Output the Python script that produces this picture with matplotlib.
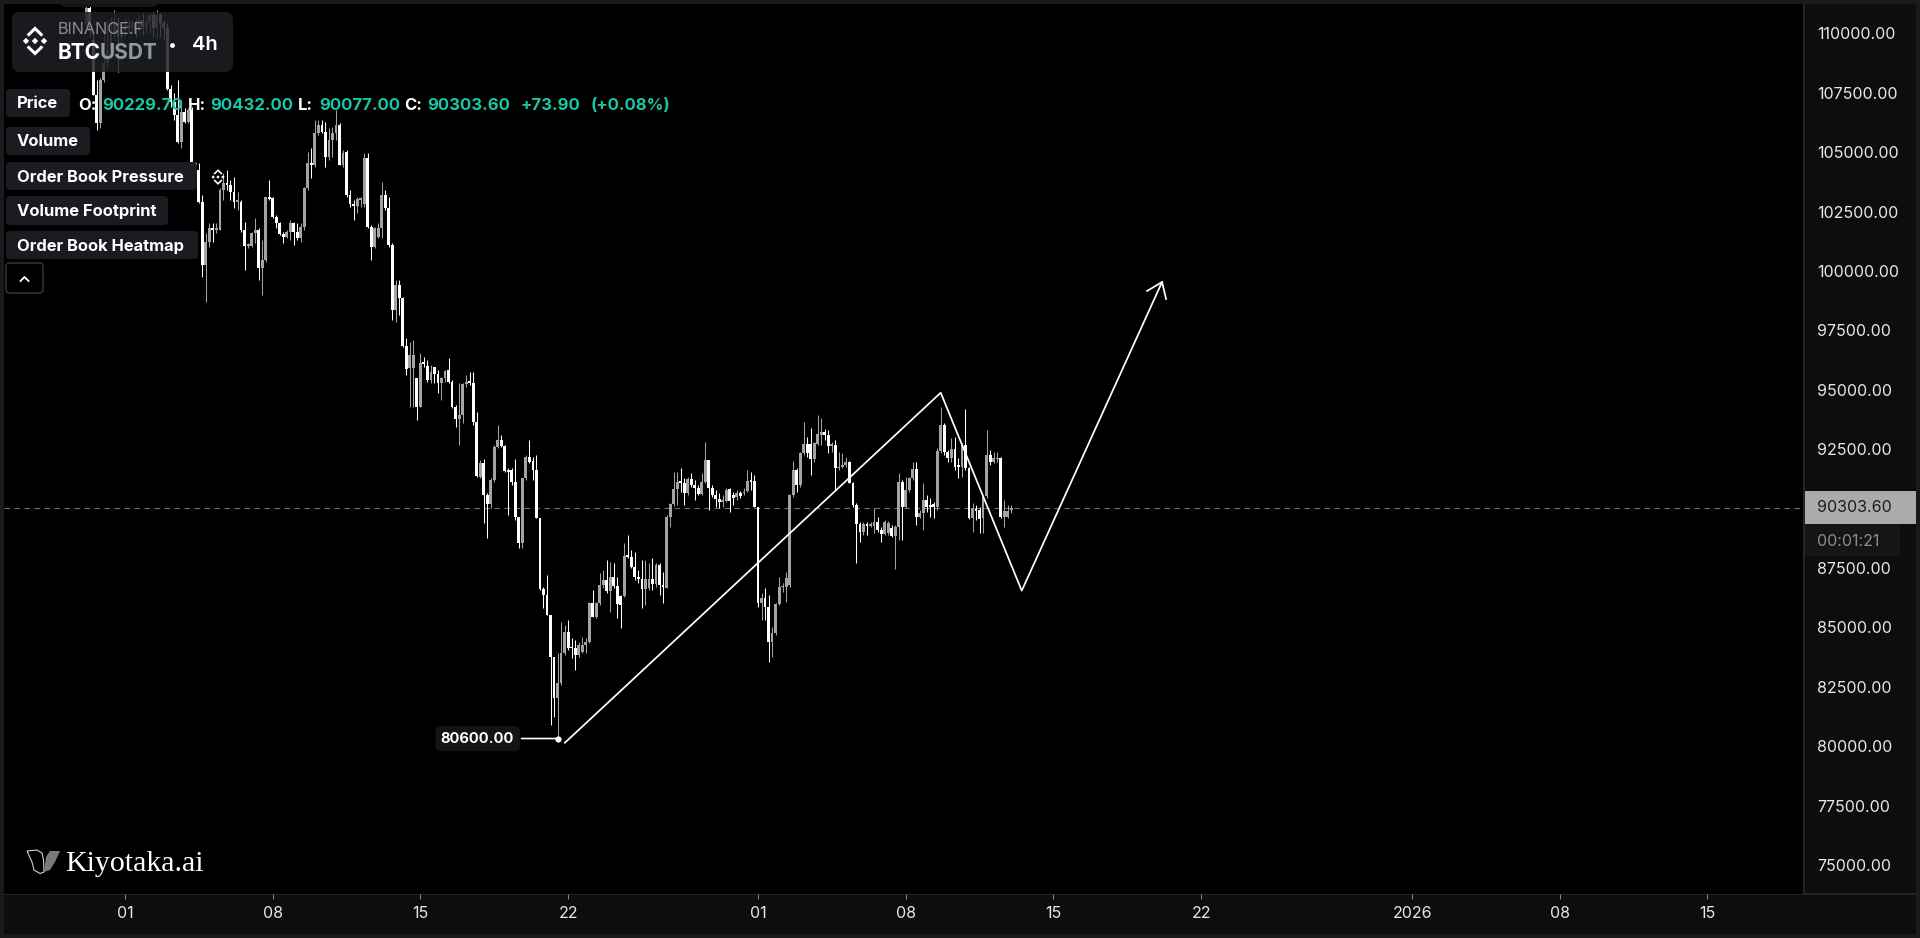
import numpy as np
import pandas as pd
import matplotlib
matplotlib.use("Agg")
import matplotlib.pyplot as plt
import matplotlib.dates as mdates
from matplotlib.patches import FancyBboxPatch, Rectangle, Polygon
from matplotlib.transforms import offset_copy

plt.rcParams["font.family"] = ["Inter", "DejaVu Sans"]

# 4h candles
first_candle = "2025-10-30 04:00"
opens = [
    110700, 111330, 110000, 107690, 106490, 108320, 109020, 109580, 110280, 110700,
    110140, 110420, 110630, 110490, 110700, 110420, 110840, 110560, 110770, 111050,
    110490, 111050, 110700, 110490, 107920, 107400, 106840, 105720, 106980, 106560,
    107050, 104810, 104530, 103200, 100530, 101510, 102070, 102000, 102000, 103690,
    103970, 103900, 103620, 103200, 103200, 102000, 101340, 101340, 101860, 102000,
    100390, 100740, 103380, 103340, 102560, 102310, 101830, 101700, 101930, 102280,
    101930, 101650, 102140, 103760, 104810, 104740, 106070, 106420, 106140, 105090,
    105790, 106070, 106420, 104740, 105300, 103480, 103100, 103030, 103270, 103100,
    105020, 102140, 101270, 101720, 102070, 103480, 102910, 101370, 98640, 99690,
    99130, 97120, 96180, 96180, 95760, 94570, 96390, 96290, 95690, 96250,
    95940, 95580, 95760, 96110, 95620, 94570, 94030, 94220, 95520, 95620,
    95550, 93940, 91620, 92180, 90850, 90470, 91480, 92880, 93160, 92930,
    91900, 91900, 91410, 89910, 88840, 91550, 92430, 92280, 91900, 89870,
    86880, 86640, 85800, 84020, 82290, 82920, 84180, 85100, 84470, 84400,
    84120, 84260, 84540, 84680, 86290, 85730, 86290, 87060, 87270, 86820,
    87410, 87020, 86600, 86600, 88280, 88250, 87830, 87380, 87300, 86880,
    86920, 87300, 87090, 87900, 87060, 86950, 89940, 90460, 91090, 91410,
    91370, 90920, 91510, 91270, 91130, 90890, 91410, 92320, 91130, 90850,
    90670, 90540, 90600, 91090, 90850, 90780, 90950, 90920, 91020, 91440,
    91440, 90330, 86320, 86530, 86120, 84680, 85030, 86260, 86960, 86990,
    87060, 90850, 91900, 91270, 92600, 93000, 93000, 92350, 93000, 93380,
    93520, 93380, 92910, 92950, 91970, 92010, 92110, 92250, 91370, 90430,
    89630, 89310, 89630, 89540, 89540, 89730, 89380, 89210, 89240, 89450,
    89120, 89520, 91410, 90330, 91060, 91550, 91930, 89940, 90110, 90640,
    90430, 90470, 90330, 92720, 93800, 92670, 92390, 92770, 92110, 92040,
    92950, 92000, 89870, 90250, 90220, 89870, 90810, 92530, 92250, 92350,
    92420, 89910, 89940, 90229.7,
]
highs = [
    111510, 111430, 110280, 108320, 108390, 110280, 110840, 110980, 111260, 110980,
    110700, 110910, 110840, 110840, 110910, 111050, 111120, 110980, 111150, 111190,
    111260, 111150, 110840, 110700, 108110, 107760, 108320, 107480, 107120, 107120,
    107190, 104880, 104810, 103480, 101860, 102280, 102310, 102280, 103760, 104390,
    104530, 104110, 104250, 103620, 103270, 102350, 101440, 101930, 102490, 102070,
    101580, 103410, 104110, 103410, 102640, 102350, 101930, 102000, 102420, 102350,
    102310, 102280, 103830, 105300, 105440, 106630, 106630, 106630, 106560, 106280,
    106350, 107050, 106490, 105370, 105370, 103690, 103270, 103410, 103410, 105230,
    105230, 102210, 102140, 102280, 104040, 103690, 103410, 101440, 99900, 99900,
    99200, 97440, 97300, 97370, 95760, 96810, 96670, 96530, 96320, 96250,
    96110, 95830, 96110, 96600, 95690, 94640, 95550, 95550, 95900, 96040,
    96040, 94360, 92320, 92350, 90920, 91550, 92950, 93800, 93380, 92950,
    91970, 91970, 92350, 89940, 91550, 92530, 93160, 92460, 92530, 89870,
    86990, 87480, 85800, 84040, 84180, 85520, 85380, 85590, 84820, 84750,
    84680, 84890, 84820, 86360, 86850, 86360, 87550, 87690, 88110, 88040,
    87970, 87410, 86640, 88820, 89170, 88530, 88460, 87690, 88110, 88110,
    87970, 88180, 87970, 87970, 87620, 90010, 90500, 91830, 91830, 91970,
    91550, 91620, 91760, 91480, 91270, 91760, 93090, 92320, 91270, 91060,
    90920, 90850, 91130, 91130, 90990, 91060, 91030, 91130, 91900, 91830,
    91690, 90360, 86710, 86920, 86640, 85310, 86320, 87410, 87130, 87620,
    90890, 92290, 91970, 92670, 93940, 93300, 93650, 93090, 94220, 94080,
    93610, 93580, 93090, 93160, 92670, 92600, 92460, 92290, 91410, 90500,
    89730, 89730, 89730, 89730, 90290, 89940, 89520, 89800, 89760, 89590,
    89590, 91760, 91480, 91620, 91590, 92250, 92250, 90220, 91340, 90850,
    90710, 90570, 92810, 94570, 93870, 92740, 93230, 93300, 92390, 93020,
    94470, 92040, 90500, 90430, 90360, 90850, 93580, 92740, 92670, 92670,
    92460, 90640, 90430, 90432,
]
lows = [
    110630, 110140, 107680, 106210, 106280, 108250, 108880, 109370, 110000, 108670,
    109860, 110140, 110280, 110280, 110140, 110280, 110210, 110280, 110280, 110140,
    110070, 110140, 110000, 107900, 107190, 106630, 105650, 105440, 106520, 106490,
    104810, 104390, 103130, 100040, 98990, 101300, 101510, 101860, 102000, 103270,
    103690, 103270, 102910, 102840, 101930, 100320, 101230, 101300, 101440, 99900,
    99270, 100670, 103270, 102490, 102070, 101790, 101440, 101650, 101580, 101370,
    101580, 101510, 102000, 103690, 104180, 104670, 106000, 106070, 104670, 104950,
    105090, 105790, 104740, 104670, 103410, 102980, 102420, 102700, 102980, 102980,
    102070, 100740, 101230, 101650, 101650, 102840, 101300, 98210, 98140, 98430,
    97090, 95900, 94570, 94570, 94010, 94540, 96250, 95620, 95550, 95550,
    95130, 94850, 95620, 95550, 94500, 93730, 92950, 93870, 95410, 95480,
    93800, 91620, 91550, 89660, 89030, 90290, 91410, 92810, 92880, 91830,
    90010, 91270, 89800, 88600, 88600, 91480, 92180, 91480, 89870, 86850,
    86080, 85800, 81170, 81520, 80600, 82850, 84110, 84330, 83970, 83480,
    84040, 84180, 84210, 84610, 85700, 85660, 86220, 86920, 86740, 85940,
    86920, 85660, 85240, 86570, 88180, 87760, 87270, 87130, 86080, 86220,
    86850, 86850, 86990, 86640, 86290, 86920, 89490, 90390, 90430, 90990,
    90430, 90850, 91200, 90640, 90850, 90850, 91340, 90220, 90780, 90330,
    90290, 90330, 90570, 90150, 90430, 90640, 90710, 90850, 90990, 91060,
    90330, 86150, 85590, 85590, 83830, 84040, 84960, 86220, 86780, 86360,
    86990, 90780, 90990, 91200, 92530, 92460, 91690, 92250, 92950, 92950,
    93160, 92600, 92670, 91060, 91900, 91970, 92040, 91340, 90360, 88000,
    88880, 89170, 89170, 89490, 89240, 89310, 88880, 89170, 89170, 89090,
    87720, 88950, 88950, 90290, 90990, 91480, 89590, 89870, 89380, 90150,
    89940, 89870, 90220, 92600, 92530, 92250, 92250, 91900, 91550, 91620,
    91900, 89820, 89310, 89800, 89240, 89240, 90710, 92110, 92180, 92250,
    89870, 89520, 89870, 90077,
]
closes = [
    111330, 110420, 107680, 106490, 108320, 109020, 109580, 110280, 110700, 110140,
    110420, 110630, 110490, 110700, 110420, 110840, 110560, 110770, 111050, 110490,
    111050, 110700, 110490, 107920, 107400, 106840, 105720, 106980, 106560, 107050,
    104880, 104460, 103200, 100530, 101510, 102070, 102000, 102100, 103690, 103970,
    103900, 103620, 103200, 103270, 102000, 101340, 101370, 101860, 102000, 100390,
    100740, 103380, 103320, 102560, 102310, 101830, 101700, 101930, 102280, 101930,
    101650, 102140, 103760, 104810, 104740, 106070, 106420, 106140, 105090, 105790,
    106070, 106420, 104740, 105230, 103480, 103100, 103030, 103290, 103340, 105020,
    102140, 101270, 102070, 102070, 103480, 102910, 101370, 98640, 99690, 99130,
    97120, 96140, 96740, 96740, 94570, 96390, 96360, 95690, 96040, 95940,
    95580, 95760, 96080, 95620, 94570, 94030, 94220, 95520, 95580, 95580,
    93940, 91650, 92210, 90850, 90470, 91480, 92880, 93160, 92930, 91860,
    91830, 91410, 89910, 88840, 91550, 92430, 92250, 91900, 89870, 86880,
    86640, 85800, 84020, 82290, 82920, 84180, 85100, 84400, 84400, 84120,
    84540, 84540, 84680, 86290, 85730, 86290, 87060, 87270, 86820, 87410,
    87020, 86260, 86220, 88280, 88250, 87830, 87380, 87300, 86880, 87300,
    87300, 87090, 87900, 87060, 86960, 89940, 90460, 91090, 91410, 91370,
    90920, 91510, 91270, 91130, 90890, 91410, 92320, 91130, 90850, 90670,
    90540, 90640, 91060, 90600, 90710, 90920, 90810, 90990, 91440, 91410,
    90360, 86320, 86530, 86120, 84680, 85030, 86260, 86960, 87020, 87340,
    90850, 91900, 91270, 92600, 93000, 92600, 92350, 93020, 93420, 93520,
    93380, 92910, 92980, 91970, 92040, 92110, 92250, 91370, 90430, 89630,
    89310, 89630, 89540, 89630, 89730, 89380, 89210, 89730, 89690, 89120,
    89520, 91410, 90330, 91060, 91550, 91930, 89940, 90110, 90640, 90330,
    90330, 90330, 92720, 93800, 92670, 92390, 92770, 92040, 92010, 92950,
    91970, 89870, 90290, 90190, 89820, 90810, 92530, 92250, 92390, 92420,
    89940, 90190, 90190, 90303.6,
]

# axis ticks
y_ticks = [110000, 107500, 105000, 102500, 100000, 97500, 95000, 92500,
           87500, 85000, 82500, 80000, 77500, 75000]
x_tick_dates = ["2025-11-01", "2025-11-08", "2025-11-15", "2025-11-22", "2025-12-01", "2025-12-08",
                "2025-12-15", "2025-12-22", "2026-01-01", "2026-01-08", "2026-01-15"]
x_tick_labels = ["01", "08", "15", "22", "01", "08", "15", "22", "2026", "08", "15"]

# hand drawn zigzag and arrow head
zigzag_times = ["2025-11-21 20:24", "2025-12-09 15:50", "2025-12-13 12:00", "2025-12-20 03:36"]
zigzag_prices = [80423, 95155, 86821, 99814]
arrow_times = ["2025-12-19 10:33", "2025-12-20 03:36", "2025-12-20 08:10"]
arrow_prices = [99436, 99814, 99099]

last_price = 90303.60
low_price = 80600.00

W, H = 1920, 938
BG = "#1a1a1a"
PANEL = "#0d0d0d"
LINE = "#2a2a2a"
TEAL = "#19c6a6"
BTN = "#1b1c21"

times = pd.date_range(first_candle, periods=len(closes), freq="4h")
t = mdates.date2num(times)
o, h, l, c = map(np.array, (opens, highs, lows, closes))

fig = plt.figure(figsize=(W / 100, H / 100), dpi=100, facecolor=BG)

# background bands behind the axes
bg = fig.add_axes([0, 0, 1, 1], zorder=0)
bg.set_xlim(0, W)
bg.set_ylim(H, 0)
bg.axis("off")
bg.add_patch(Rectangle((4, 894), 1912, 40, fc=PANEL, ec="none"))
bg.add_patch(Rectangle((1803, 4), 113, 930, fc=PANEL, ec="none"))
bg.plot([4, 1916], [894.5, 894.5], color=LINE, lw=1.2)
bg.plot([1803.5, 1803.5], [4, 894], color=LINE, lw=1.2)

# main chart
left, right, top, bottom = 4, 1803, 4, 894
ax = fig.add_axes([left / W, 1 - bottom / H, (right - left) / W, (bottom - top) / H], zorder=1)
ax.set_facecolor("black")
nov1 = mdates.date2num(pd.Timestamp("2025-11-01"))
ax.set_xlim(nov1 + (left - 125) / 21.1, nov1 + (right - 125) / 21.1)
ax.set_ylim(74056, 111515)
for s in ax.spines.values():
    s.set_visible(False)

down = c <= o
up = ~down
for mask, col in ((up, "#a3a3a3"), (down, "#ffffff")):
    ax.vlines(t[mask], l[mask], h[mask], color=col, lw=0.75, zorder=2)
    ax.bar(t[mask], np.maximum(np.abs(c - o)[mask], 70), bottom=np.minimum(o, c)[mask],
           width=0.135, color=col, lw=0, zorder=3)

ax.axhline(last_price, color="#707070", lw=0.8, dashes=(5, 4), zorder=1)

# drawings
ax.plot(mdates.date2num(pd.to_datetime(zigzag_times)), zigzag_prices, color="white", lw=1.25, zorder=4)
ax.plot(mdates.date2num(pd.to_datetime(arrow_times)), arrow_prices, color="white", lw=1.25, zorder=4)

# lowest price marker
t_low = t[np.argmin(l)]
ax.plot([t_low], [low_price], "o", color="white", ms=4.5, mew=0, zorder=5)
ax.annotate("", xy=(t_low, low_price), xytext=(-36, 0), textcoords="offset pixels",
            arrowprops=dict(arrowstyle="-", color="white", lw=1.2, shrinkA=0, shrinkB=0))
ax.annotate("80600.00", xy=(t_low, low_price), xytext=(-80, 0), textcoords="offset pixels",
            ha="center", va="center", color="white", fontsize=10.6, fontweight="bold",
            bbox=dict(boxstyle="round,pad=0.38", fc="#141414", ec="none"), zorder=5)

ax.yaxis.tick_right()
ax.set_yticks(y_ticks)
ax.set_yticklabels([f"{v:.2f}" for v in y_ticks])
ax.tick_params(axis="y", length=0, pad=10, labelsize=11.5, labelcolor="#e8e8e8")
for lab in ax.get_yticklabels():
    lab.set_verticalalignment("bottom")
    lab.set_transform(offset_copy(lab.get_transform(), fig=fig, y=-1.7, units="points"))
ax.set_xticks(mdates.date2num(pd.to_datetime(x_tick_dates)))
ax.set_xticklabels(x_tick_labels)
ax.tick_params(axis="x", length=3.5, width=0.7, color="#8a8a8a", pad=5, labelsize=11.5, labelcolor="#e8e8e8")

# overlay for the ui parts, in pixels
ui = fig.add_axes([0, 0, 1, 1], zorder=2)
ui.set_xlim(0, W)
ui.set_ylim(H, 0)
ui.axis("off")
ui.patch.set_alpha(0)


def box(x0, y0, x1, y1, fc, alpha=1.0, ec="none", rad=5):
    ui.add_patch(FancyBboxPatch((x0 + rad, y0 + rad), x1 - x0 - 2 * rad, y1 - y0 - 2 * rad,
                                boxstyle=f"round,pad={rad},rounding_size={rad}",
                                fc=fc, ec=ec, alpha=alpha, lw=1))


def binance_logo(cx, cy, r):
    # centre and side diamonds, two chevrons
    s = r / 13
    for dx in (0, -9, 9):
        d = 3.2 * s
        ui.add_patch(Polygon([(cx + dx * s, cy - d), (cx + dx * s + d, cy), (cx + dx * s, cy + d),
                              (cx + dx * s - d, cy)], fc="white", ec="none"))
    for sign in (-1, 1):
        ui.plot([cx - 6.2 * s, cx, cx + 6.2 * s], [cy + sign * 6.5 * s, cy + sign * 12.5 * s, cy + sign * 6.5 * s],
                color="white", lw=2.2 * s, solid_joinstyle="miter")


# label of the high, its top runs under the frame as in the original
box(60, -20, 158, 7, "#141414")
ui.text(109, -1, "111230.20", color="white", ha="center", va="center", fontsize=11, fontweight="bold")
ui.add_patch(Rectangle((0, 0), W, 4, fc=BG, ec="none", zorder=3))

# symbol panel
box(12, 12, 233, 72, "#1e1f24", alpha=0.86, rad=8)
binance_logo(35, 41, 13)
ui.text(58, 30, "BINANCE.F", color="#8b8b90", fontsize=11.7, va="center")
ui.text(58, 53, "BTC", color="white", fontsize=15, fontweight="bold", va="center")
ui.text(100, 53, "USDT", color="#8f99a3", fontsize=15, fontweight="bold", va="center")
ui.plot([172], [45], "o", color="white", ms=3.5, mew=0)
ui.text(192, 44.5, "4h", color="white", fontsize=14.5, fontweight="semibold", va="center")

# indicator buttons
buttons = [("Price", 6, 70, 89, 117), ("Volume", 6, 90, 127, 155), ("Order Book Pressure", 6, 197, 162, 190),
           ("Volume Footprint", 6, 168, 196, 225), ("Order Book Heatmap", 6, 198, 231, 259)]
for name, x0, x1, y0, y1 in buttons:
    box(x0, y0, x1, y1, BTN, rad=4)
    ui.text(17, (y0 + y1) / 2 + 1, name, color="white", fontsize=11.9, fontweight="bold", va="center")
box(6, 263, 43, 293, "black", ec="#3a3a3a", rad=3)
ui.plot([20.5, 24.5, 28.5], [281, 277, 281], color="white", lw=1.3)

# ohlc legend
legend_parts = [(78, "O:", "white"), (102, "90229.70", TEAL), (188, "H:", "white"), (210, "90432.00", TEAL),
                (298, "L:", "white"), (319, "90077.00", TEAL), (404, "C:", "white"), (427, "90303.60", TEAL),
                (521, "+73.90", TEAL), (591, "(+0.08%)", TEAL)]
for x, txt, col in legend_parts:
    ui.text(x, 105, txt, color=col, fontsize=12, fontweight="bold", va="center")

binance_logo(218, 177, 7)

# price label and countdown
ui.add_patch(Rectangle((1805, 491), 111, 33, fc="#ababab", ec="none"))
ui.text(1817, 508, f"{last_price:.2f}", color="#1c1c1c", fontsize=11.5, va="center")
ui.add_patch(Rectangle((1805, 524), 95, 32, fc="#151515", ec="none"))
ui.text(1817, 541, "00:01:21", color="#8c8c8c", fontsize=11.5, va="center")

# watermark
ui.add_patch(Polygon([(27, 851), (37, 850), (42, 853), (43.5, 860), (44, 872), (40, 873.5), (34, 870), (32, 862)],
                     fc="black", ec="#d0d0d0", lw=0.8))
ui.add_patch(Polygon([(60, 851), (50, 851), (46, 857), (44, 872), (50, 870), (55, 862)], fc="#7a7a7a", ec="none"))
ui.text(65, 864, "Kiyotaka.ai", family="Liberation Serif", color="white", fontsize=21.5, va="center")

fig.savefig("out.png", dpi=100, facecolor=BG)
